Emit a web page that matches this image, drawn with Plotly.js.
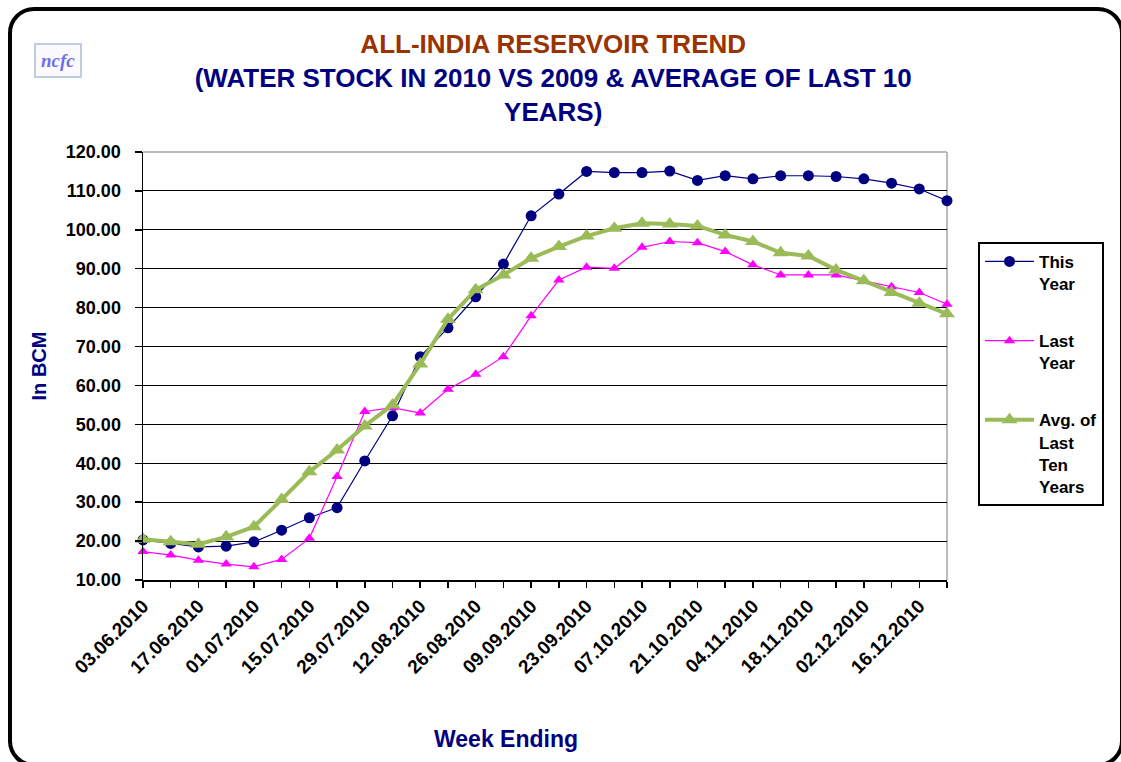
<!DOCTYPE html>
<html>
<head>
<meta charset="utf-8">
<script src="https://cdn.plot.ly/plotly-3.0.1.min.js"></script>
<style>
  html, body { margin: 0; padding: 0; background: #ffffff; }
  #wrap { position: relative; width: 1121px; height: 762px; overflow: hidden; }
  #chart { position: absolute; left: 0; top: 0; width: 1121px; height: 762px; }
  #frame { position: absolute; left: 8px; top: 7px; width: 1108px; height: 752px;
           border: 4px solid #000; border-radius: 26px; pointer-events: none; }
</style>
</head>
<body>
<div id="wrap">
  <div id="chart"></div>
  <div id="frame"></div>
</div>
<script>
// Week-ending dates (categories)
const weekEnding = ["03.06.2010","10.06.2010","17.06.2010","24.06.2010","01.07.2010","08.07.2010",
  "15.07.2010","22.07.2010","29.07.2010","05.08.2010","12.08.2010","19.08.2010","26.08.2010",
  "02.09.2010","09.09.2010","16.09.2010","23.09.2010","30.09.2010","07.10.2010","14.10.2010",
  "21.10.2010","28.10.2010","04.11.2010","11.11.2010","18.11.2010","25.11.2010","02.12.2010",
  "09.12.2010","16.12.2010","23.12.2010"];

// Water stock in BCM
const thisYear = [20.3,19.4,18.5,18.7,19.8,22.8,26.0,28.6,40.6,52.2,67.4,74.8,82.8,91.2,103.6,
  109.2,115.0,114.7,114.7,115.1,112.7,113.9,113.1,113.9,113.9,113.7,113.1,112.0,110.5,107.5];
const lastYear = [17.3,16.4,15.1,14.1,13.4,15.3,20.7,36.6,53.3,54.3,52.9,59.0,62.9,67.4,77.9,
  87.1,90.4,90.1,95.5,97.0,96.7,94.4,91.0,88.4,88.4,88.4,86.9,85.4,83.9,80.9];
const avgTenYears = [20.5,19.8,19.2,21.1,23.7,30.7,37.8,43.4,49.6,55.0,65.5,77.0,84.6,88.4,92.7,
  95.7,98.4,100.4,101.7,101.5,101.0,98.7,97.0,94.1,93.3,89.7,86.9,83.9,81.1,78.4];

// Axis ticks
const yTicks = [10,20,30,40,50,60,70,80,90,100,110,120];
const xTickText = weekEnding.map((d, i) => (i % 2 === 0 ? d : ""));

const FONT = "Arial, 'Liberation Sans', sans-serif";
const NAVY = "#000080";

const traces = [
  {
    x: weekEnding, y: thisYear, name: "This<br>Year", legendgroup: "a",
    type: "scatter", mode: "lines+markers", cliponaxis: false,
    line: { color: NAVY, width: 1.2 },
    marker: { symbol: "circle", size: 11, color: NAVY }
  },
  {
    x: weekEnding, y: lastYear, name: "Last<br>Year", legendgroup: "b",
    type: "scatter", mode: "lines+markers", cliponaxis: false,
    line: { color: "#FF00FF", width: 1.2 },
    marker: { symbol: "triangle-up", size: 10, color: "#FF00FF" }
  },
  {
    x: weekEnding, y: avgTenYears, name: "Avg. of<br>Last<br>Ten<br>Years", legendgroup: "c",
    type: "scatter", mode: "lines+markers", cliponaxis: false,
    line: { color: "#9BBB59", width: 4 },
    marker: { symbol: "triangle-up", size: 14, color: "#9BBB59" }
  }
];

const layout = {
  width: 1121, height: 762,
  paper_bgcolor: "#ffffff", plot_bgcolor: "rgba(0,0,0,0)",
  margin: { l: 143, r: 174, t: 152, b: 182 },
  font: { family: FONT, color: "#000" },
  title: {
    text: "<span style='color:#993300'>ALL-INDIA RESERVOIR TREND</span><br>(WATER STOCK IN 2010 VS 2009 &amp; AVERAGE OF LAST 10<br>YEARS)",
    font: { family: FONT, size: 26, color: NAVY, weight: "bold" },
    xref: "container", x: 0.4935, xanchor: "center",
    yref: "container", y: 0.93, yanchor: "top"
  },
  xaxis: {
    type: "category", range: [0, weekEnding.length - 1],
    tickmode: "array", tickvals: weekEnding, ticktext: xTickText,
    tickangle: -45, ticks: "outside", ticklen: 6, tickwidth: 1.5, tickcolor: "#000",
    tickfont: { family: FONT, size: 19, color: "#000", weight: "bold" },
    showline: true, linecolor: "#000", linewidth: 1.5,
    showgrid: false, zeroline: false
  },
  yaxis: {
    range: [10, 120], tickmode: "array", tickvals: yTicks, tickformat: ".2f",
    ticks: "outside", ticklen: 7, tickwidth: 1.5, tickcolor: "#000",
    ticklabelstandoff: 10,
    tickfont: { family: FONT, size: 18, color: "#000", weight: "bold" },
    showline: true, linecolor: "#000", linewidth: 1.5,
    showgrid: true, gridcolor: "#000", gridwidth: 1, zeroline: false,
    title: { text: "In BCM", font: { family: FONT, size: 20, color: NAVY, weight: "bold" }, standoff: 14 }
  },
  legend: {
    x: 1.0386, xanchor: "left", y: 0.79, yanchor: "top",
    bordercolor: "#000", borderwidth: 2, bgcolor: "#fff",
    font: { family: FONT, size: 17, color: "#000", weight: "bold" },
    valign: "top", tracegroupgap: 32, itemwidth: 49
  },
  shapes: [
    { type: "line", xref: "paper", yref: "paper", x0: 0, x1: 1, y0: 1, y1: 1,
      line: { color: "#a6a6a6", width: 1.5 }, layer: "above" },
    { type: "line", xref: "paper", yref: "paper", x0: 1, x1: 1, y0: 0, y1: 1,
      line: { color: "#a6a6a6", width: 1.5 }, layer: "below" }
  ],
  annotations: [
    { text: "Week Ending", xref: "paper", yref: "paper", x: (506 - 143) / 804, y: (580 - 739) / 428,
      xanchor: "center", yanchor: "middle", showarrow: false,
      font: { family: FONT, size: 23, color: NAVY, weight: "bold" } },
    { text: "<i><b>ncfc</b></i>", xref: "paper", yref: "paper", x: (58 - 143) / 804, y: (580 - 60) / 428,
      xanchor: "center", yanchor: "middle", showarrow: false,
      font: { family: "'Liberation Serif', serif", size: 19, color: "#6f6fe6" },
      bordercolor: "#c0cce0", borderwidth: 2, borderpad: 5, bgcolor: "#fbfbff" }
  ],
  showlegend: true
};

Plotly.newPlot("chart", traces, layout, { displayModeBar: false, staticPlot: true });
</script>
</body>
</html>
